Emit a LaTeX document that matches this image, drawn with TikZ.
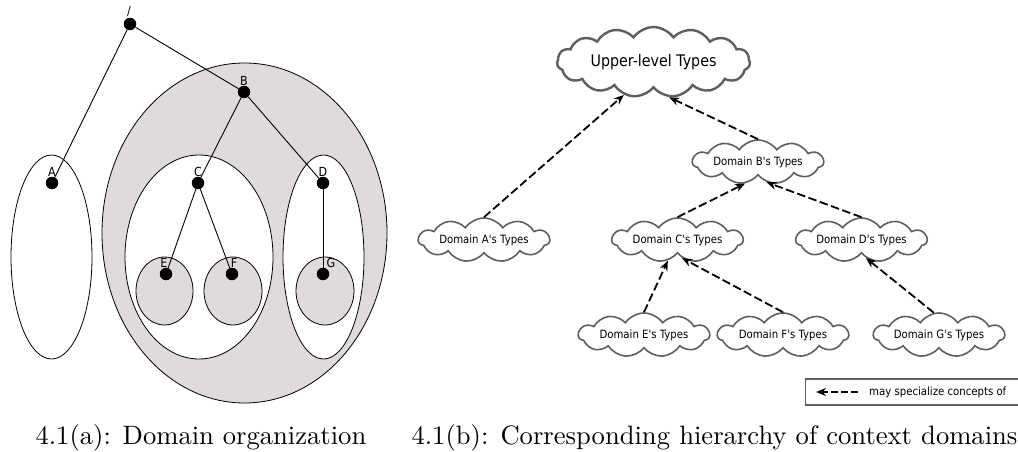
\documentclass[tikz,border=0pt]{standalone}
\usepackage{fontspec}
\newfontfamily\vera[FakeStretch=0.89]{DejaVu Sans}
\usetikzlibrary{shapes.symbols,arrows.meta}
\definecolor{domfill}{RGB}{224,218,218}
\definecolor{puffline}{RGB}{95,95,95}
\begin{document}
\begin{tikzpicture}[x=1pt,y=-1pt,
  region/.style={draw=black,line width=0.8pt},
  dot/.style={circle,fill=black,minimum size=12.5pt,inner sep=0pt},
  tag/.style={font=\vera\fontsize{12.5}{13}\selectfont,inner sep=0pt},
  tree/.style={draw=black,line width=0.9pt},
  domcloud/.style={cloud,cloud puffs=11,cloud puff arc=110,cloud ignores aspect,
    draw=puffline,line width=1.6pt,fill=white,minimum width=131pt,minimum height=44pt,inner sep=0pt,
    label={[font=\vera\fontsize{11.4}{13}\selectfont]center:#1}},
  topcloud/.style={cloud,cloud puffs=15,cloud puff arc=110,cloud ignores aspect,
    draw=puffline,line width=2.4pt,fill=white,minimum width=193pt,minimum height=70pt,inner sep=0pt,
    label={[font=\vera\fontsize{16}{18}\selectfont]center:#1}},
  spec/.style={draw=black,line width=1.8pt,dash pattern=on 8.5pt off 3.5pt,
    -{Stealth[length=10pt,width=8pt]}},
  caption/.style={anchor=base west,inner sep=0pt,scale=2.66}
]
\useasboundingbox (0,0) rectangle (1018,452);

% ---- (a) nested domain regions ----
\draw[region,fill=domfill] (244.5,233) ellipse [x radius=142.5,y radius=170];
\draw[region,fill=white] (51.5,257) ellipse [x radius=40.5,y radius=102];
\draw[region,fill=white] (199,257) ellipse [x radius=74,y radius=102];
\draw[region,fill=white] (323.5,257) ellipse [x radius=40.5,y radius=102];
\draw[region,fill=domfill] (164.5,291) ellipse [x radius=28.5,y radius=34];
\draw[region,fill=domfill] (233,291) ellipse [x radius=29,y radius=34];
\draw[region,fill=domfill] (325,291) ellipse [x radius=29,y radius=34];

% tree nodes
\node[dot] (root) at (130,24) {};
\node[dot] (nA) at (52,183) {};
\node[dot] (nB) at (244,92) {};
\node[dot] (nC) at (198,183) {};
\node[dot] (nD) at (323,183) {};
\node[dot] (nE) at (166,274) {};
\node[dot] (nF) at (232,274) {};
\node[dot] (nG) at (323,274) {};

% tree edges
\draw[tree] (root) -- (nA);
\draw[tree] (root) -- (nB);
\draw[tree] (nB) -- (nC);
\draw[tree] (nB) -- (nD);
\draw[tree] (nC) -- (nE);
\draw[tree] (nC) -- (nF);
\draw[tree] (nD) -- (nG);

\node[tag] (lroot) at (129,12) {/};
\node[tag] (lA) at (52,172) {A};
\node[tag] (lB) at (244,81) {B};
\node[tag] (lC) at (198,172) {C};
\node[tag] (lD) at (323,172) {D};
\node[tag] (lE) at (164,263) {E};
\node[tag] (lF) at (234,263) {F};
\node[tag] (lG) at (331,263) {G};

% ---- (b) hierarchy of context domains ----
\node[topcloud={Upper-level Types}] (up) at (653.5,62) {};
\node[domcloud={Domain B's Types}] (cB) at (758,162) {};
\node[domcloud={Domain A's Types}] (cA) at (484,240) {};
\node[domcloud={Domain C's Types}] (cC) at (677.5,240) {};
\node[domcloud={Domain D's Types}] (cD) at (861.5,240) {};
\node[domcloud={Domain E's Types}] (cE) at (644,335) {};
\node[domcloud={Domain F's Types}] (cF) at (783,335) {};
\node[domcloud={Domain G's Types}] (cG) at (939,335) {};

\draw[spec] (cA.north) -- (up.228);
\draw[spec] (cB.north) -- (up.294);
\draw[spec] (cC.north) -- (cB.239);
\draw[spec] (cD.north) -- (cB.293);
\draw[spec] (cE.north) -- (cC.245);
\draw[spec] (cF.north) -- (cC.284);
\draw[spec] (cG.103) -- (cD.284);

% key
\node[draw=puffline,line width=1.2pt,minimum width=230pt,minimum height=26pt,anchor=west,inner sep=0pt]
  (key) at (805,392) {};
\coordinate (keytail) at (858,392);
\coordinate (keyhead) at (816,392);
\draw[spec,line width=1.5pt,dash pattern=on 7pt off 3pt] (keytail) -- (keyhead);
\node[anchor=west,inner sep=0pt,font=\vera\fontsize{11.4}{13}\selectfont] (keytext) at (869,392) {may specialize concepts of};

% captions
\node[caption] (capA) at (35,444) {4.1(a): Domain organization};
\node[caption] (capB) at (411,444) {\spaceskip=3.45pt 4.1(b): Corresponding hierarchy of context domains};
\end{tikzpicture}
\end{document}
